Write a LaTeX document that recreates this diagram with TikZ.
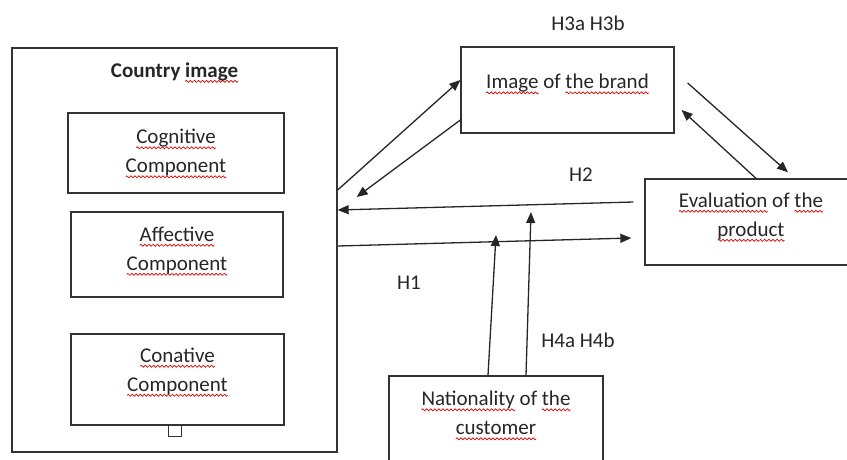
\documentclass[tikz,border=0pt]{standalone}
\usepackage{fontspec}
\setmainfont{Carlito}
\usetikzlibrary{arrows.meta}
\newsavebox\wavebox
\sbox\wavebox{\tikz{\useasboundingbox (0,0) rectangle (4pt,0);
  \draw[red!85!black, line width=0.7pt] (0,0) sin (1pt,1pt) cos (2pt,0) sin (3pt,-1pt) cos (4pt,0);}}
\newcommand\spell[1]{\leavevmode\setbox0\hbox{#1}\rlap{\lower4pt\hbox to \wd0{\xleaders\copy\wavebox\hfil}}\box0\relax}
\tikzset{
  frame/.style={draw=black!80, line width=1.3pt, rectangle, inner sep=0pt, align=center,
    font=\fontsize{21}{29}\selectfont, text=black!85},
  link/.style={draw=black!85, line width=1.3pt, -{Triangle[length=11pt,width=9pt]}},
  hyp/.style={font=\fontsize{21}{25}\selectfont, text=black!85}
}
\begin{document}
\begin{tikzpicture}[x=1pt,y=-1pt]
\useasboundingbox (0,0) rectangle (847,459);
% country image with its three components
\node[frame, minimum width=325pt, minimum height=404pt] (country) at (174.5,250) {};
\node[hyp, font=\bfseries\fontsize{21}{25}\selectfont] (title) at (174.5,72) {Country \spell{image}};
\node[frame, minimum width=216pt, minimum height=80pt] (cog) at (176,153) {\spell{Cognitive}\\ \spell{Component}};
\node[frame, minimum width=212pt, minimum height=85pt, text depth=12pt] (aff) at (177,254.5) {\spell{Affective}\\ \spell{Component}};
\node[frame, minimum width=213pt, minimum height=91pt, text depth=20pt] (con) at (177.5,379.5) {\spell{Conative}\\ \spell{Component}};
\draw[black!80, line width=1pt] ([xshift=-9.5pt]con.south) rectangle ++(13,11);
% the other boxes
\node[frame, minimum width=213pt, minimum height=86pt, text depth=17pt] (brand) at (567.5,90) {\spell{Image} of \spell{the brand}};
\node[frame, minimum width=212pt, minimum height=86pt, text depth=15pt] (eval) at (751,222) {\spell{Evaluation} of \spell{the}\\ \spell{product}};
\node[frame, minimum width=214pt, minimum height=100pt, text depth=26pt] (nat) at (496,426) {\spell{Nationality} of \spell{the}\\ \spell{customer}};
% hypotheses
\node[hyp] (h3) at (588,23) {H3a H3b};
\node[hyp] (h2) at (581,175) {H2};
\node[hyp] (h1) at (409,283) {H1};
\node[hyp] (h4) at (578,340) {H4a H4b};
\coordinate (h4atip) at (496,235);
\coordinate (h4btip) at (531,212);
% arrows
\draw[link] ([yshift=60pt]country.east) -- ([yshift=10pt]brand.west);
\draw[link] ([yshift=-30pt]brand.west) -- ([shift={(19pt,53pt)}]country.east);
\draw[link] ([shift={(-11pt,20pt)}]eval.west) -- ([yshift=40pt]country.east);
\draw[link] ([yshift=4pt]country.east) -- ([shift={(-13pt,-16pt)}]eval.west);
\draw[link] ([shift={(13pt,7pt)}]brand.east) -- ([shift={(37pt,6pt)}]eval.north);
\draw[link] ([xshift=5pt]eval.north) -- ([shift={(7pt,-20pt)}]brand.east);
\draw[link] ([xshift=-8pt]nat.north) -- (h4atip);
\draw[link] ([xshift=30pt]nat.north) -- (h4btip);
\end{tikzpicture}
\end{document}
